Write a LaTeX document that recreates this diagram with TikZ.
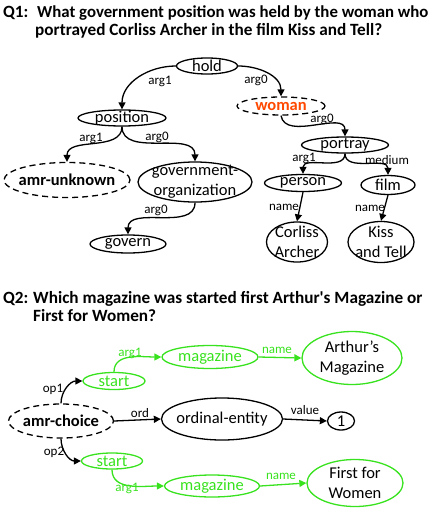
\documentclass[tikz,border=0pt]{standalone}
\usepackage{fontspec}
\setmainfont{Carlito}
\newfontfamily\ttlfont{Carlito}[Ligatures=TeXOff]
\usetikzlibrary{shapes.geometric,arrows.meta}
\definecolor{agreen}{RGB}{56,226,30}
\definecolor{aorange}{RGB}{255,72,0}
\newcommand{\EN}[8][]{%
  \node[ell,#1,minimum width=#5pt,minimum height=#6pt] (#2) at (#3pt,-#4pt) {};
  \node[nt,#7] (#2t) at (#2.center) {#8};}
\begin{document}
\begin{tikzpicture}[
  ell/.style={ellipse, draw, line width=1.3pt, inner sep=0pt},
  dsh/.style={dash pattern=on 6pt off 4pt},
  nt/.style={font=\fontsize{16.5}{20}\selectfont, align=center, inner sep=0pt},
  lb/.style={font=\fontsize{13}{15}\selectfont, inner sep=0pt},
  ttl/.style={font=\ttlfont\fontsize{17.2}{20}\selectfont\bfseries, inner sep=0pt, anchor=base west},
  ed/.style={line width=1.3pt, -{Triangle[length=7pt,width=7pt]}},
  ged/.style={ed, draw=agreen},
]
\useasboundingbox (0pt,0pt) rectangle (432pt,-514pt);
% titles
\node[ttl] (q1) at (3pt,-17.3pt) {Q1:};
\node[ttl,font=\ttlfont\fontsize{16.8}{20}\selectfont\bfseries] (t1a) at (37pt,-17.3pt) {What government position was held by the woman who};
\node[ttl] (t1b) at (35pt,-35.7pt) {portrayed Corliss Archer in the film Kiss and Tell?};
\node[ttl] (q2) at (3pt,-303pt) {Q2:};
\node[ttl] (t2a) at (33pt,-303pt) {Which magazine was started first Arthur's Magazine or};
\node[ttl] (t2b) at (33pt,-321pt) {First for Women?};
% Q1 nodes
\EN{hold}{207}{66}{61}{16}{}{hold}
\EN[dsh]{woman}{281}{106}{88}{18}{text=aorange,font=\fontsize{16.5}{20}\selectfont\bfseries}{woman}
\EN{position}{122}{118}{88}{16}{}{position}
\EN{portray}{345}{145}{87}{16}{}{portray}
\EN[dsh]{unk}{67}{180}{126}{35}{font=\fontsize{16.5}{20}\selectfont\bfseries}{amr-unknown}
\EN{gov}{195}{182}{114}{40}{}{government-\\organization}
\EN{person}{303}{183}{77}{17}{}{person}
\EN{film}{388}{185}{54}{19}{}{film}
\EN{govern}{128}{244}{76}{18}{}{govern}
\EN{corliss}{297}{242}{61}{40}{}{Corliss\\Archer}
\EN{kiss}{381}{242}{66}{41}{}{Kiss\\and Tell}
% Q1 edges
\draw[ed] (hold.west) to[out=180,in=90] (position.north);
\draw[ed] (hold.east) to[out=0,in=90] (woman.north);
\draw[ed] (woman.south) to[out=-80,in=90] (portray.north);
\draw[ed] (position.south) to[out=-90,in=90] (unk.north);
\draw[ed] (position.south) to[out=-90,in=90] (gov.north);
\draw[ed] (portray.south) to[out=-90,in=90] (person.north);
\draw[ed] (portray.south) to[out=-90,in=90] (film.north);
\draw[ed] (person.south) -- (corliss.north);
\draw[ed] (film.south) -- (kiss.north);
\draw[ed] (gov.south) to[out=-90,in=90] (govern.north);
% Q1 labels
\node[lb] (l1) at (160pt,-81pt) {arg1};
\node[lb] (l2) at (256pt,-80pt) {arg0};
\node[lb] (l3) at (322pt,-119pt) {arg0};
\node[lb] (l4) at (91pt,-138pt) {arg1};
\node[lb] (l5) at (157pt,-137pt) {arg0};
\node[lb] (l6) at (304pt,-158pt) {arg1};
\node[lb] (l7) at (387pt,-160pt) {medium};
\node[lb] (l8) at (284pt,-207pt) {name};
\node[lb] (l9) at (370pt,-208pt) {name};
\node[lb] (l10) at (156pt,-210pt) {arg0};
% Q2 nodes
\EN[draw=agreen]{s1}{114}{381}{62}{17}{text=agreen}{start}
\EN[draw=agreen]{m1}{210}{357}{96}{23}{text=agreen}{magazine}
\EN[draw=agreen]{am}{352}{358}{100}{53}{}{Arthur’s\\Magazine}
\EN[dsh]{choice}{61}{421}{105}{34}{font=\fontsize{16.5}{20}\selectfont\bfseries}{amr-choice}
\EN{ord}{222}{419}{121}{42}{}{ordinal-entity}
\EN{one}{341}{421}{27}{18}{}{1}
\EN[draw=agreen]{s2}{112}{461}{61}{16}{text=agreen}{start}
\EN[draw=agreen]{m2}{212}{486}{95}{22}{text=agreen}{magazine}
\EN[draw=agreen]{fw}{355}{483}{96}{47}{}{First for\\Women}
% Q2 edges
\draw[ed] (choice.north) to[out=90,in=180] (s1.west);
\draw[ged] (s1.north) to[out=90,in=180] (m1.west);
\draw[ged] (m1.east) -- (am.west);
\draw[ed] (choice.east) -- (ord.west);
\draw[ed] (ord.east) -- (one.west);
\draw[ed] (choice.south) to[out=-90,in=180] (s2.west);
\draw[ged] (s2.south) to[out=-90,in=180] (m2.west);
\draw[ged] (m2.east) -- (fw.west);
% Q2 labels
\node[lb,text=agreen] (k1) at (130pt,-353pt) {arg1};
\node[lb,text=agreen] (k2) at (277pt,-350pt) {name};
\node[lb] (k3) at (53pt,-389pt) {op1};
\node[lb] (k4) at (140pt,-413pt) {ord};
\node[lb] (k5) at (305pt,-410pt) {value};
\node[lb] (k6) at (54pt,-452pt) {op2};
\node[lb,text=agreen] (k7) at (127pt,-488pt) {arg1};
\node[lb,text=agreen] (k8) at (281pt,-476pt) {name};
\end{tikzpicture}
\end{document}
